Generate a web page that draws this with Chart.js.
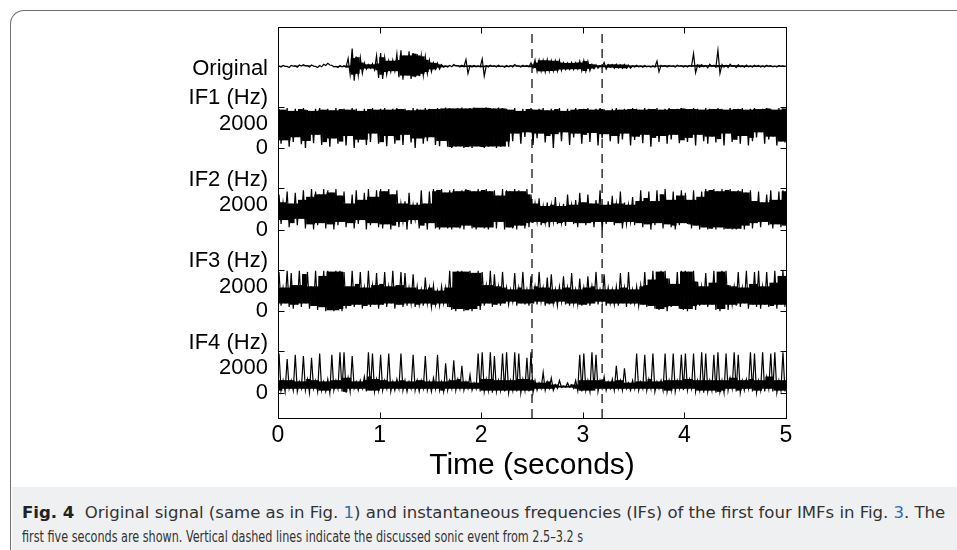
<!DOCTYPE html>
<html>
<head>
<meta charset="utf-8">
<script src="https://cdn.jsdelivr.net/npm/chart.js@4.4.1/dist/chart.umd.min.js"></script>
<style>
  body { margin: 0; width: 957px; height: 550px; overflow: hidden; background: #fff; position: relative; }
  #frame { position: absolute; left: 10px; top: 10px; width: 1000px; height: 600px;
           border-top: 1.5px solid #707070; border-left: 1.5px solid #707070; border-top-left-radius: 14px; }
  #caption { position: absolute; left: 11.5px; top: 487px; width: 946px; height: 63px; background: #eef0f2;
             font-family: "DejaVu Sans Condensed", "DejaVu Sans", sans-serif; font-size: 16px; color: #333; }
  #caption div { position: absolute; left: 10.5px; white-space: nowrap; transform-origin: 0 0; }
  #caption .l1 { top: 16px; }
  #caption .l2 { top: 40px; }
  #caption b { color: #222; }
  #caption .ref { color: #2f6db5; }
  canvas { position: absolute; left: 0; top: 0; }
</style>
</head>
<body>
<div id="frame"></div>
<canvas id="chart" width="957" height="550"></canvas>
<div id="caption">
  <div class="l1"><b>Fig. 4</b>&nbsp; Original signal (same as in Fig. <span class="ref">1</span>) and instantaneous frequencies (IFs) of the first four IMFs in Fig. <span class="ref">3</span>. The</div>
  <div class="l2">first five seconds are shown. Vertical dashed lines indicate the discussed sonic event from 2.5–3.2 s</div>
</div>
<script>
// time axis
const xTicks = [0, 1, 2, 3, 4, 5];
const eventTimes = [2.5, 3.19];
const colWidth = 0.04;   // seconds per min/max column

// left labels, top to bottom
const yLabels = ["Original", "IF1 (Hz)", "2000", "0", "IF2 (Hz)", "2000", "0",
                 "IF3 (Hz)", "2000", "0", "IF4 (Hz)", "2000", "0"];

// original signal, relative amplitude (upper / lower per column)
const origHi = [0.02,0.05,0.0,0.06,0.03,0.08,0.1,0.04,0.08,0.0,0.05,0.12,0.17,0.06,0.0,0.05,0.03,0.45,1.0,0.55,0.5,0.2,0.1,0.15,0.6,
  0.75,0.5,0.3,0.35,0.7,0.9,0.6,0.85,0.75,0.7,0.6,0.55,0.35,0.2,0.18,0.1,0.03,0.05,0.1,0.04,0.06,0.38,0.04,0.05,0.03,
  0.42,0.04,0.07,0.03,0.06,0.02,0.05,0.04,0.1,0.03,0.06,0.04,0.2,0.36,0.34,0.33,0.37,0.32,0.3,0.33,0.2,0.18,0.22,0.2,0.3,
  0.32,0.28,0.12,0.1,0.05,0.22,0.1,0.1,0.12,0.09,0.11,0.08,0.04,0.06,0.03,0.05,0.02,0.04,0.3,0.06,0.04,0.06,0.03,0.07,0.04,
  0.04,0.06,0.72,0.08,0.1,0.05,0.12,0.06,0.9,0.1,0.06,0.12,0.05,0.1,0.04,0.08,0.03,0.06,0.05,0.03,0.06,0.04,0.02,0.05,0.03];
const origLo = [-0.03,0.0,-0.06,0.02,-0.04,0.02,0.03,-0.03,0.02,-0.06,-0.02,0.05,0.08,-0.02,-0.06,-0.02,-0.05,-0.45,-0.8,-0.5,-0.4,-0.15,-0.1,-0.2,-0.65,
  -0.7,-0.45,-0.3,-0.25,-0.6,-0.75,-0.5,-0.7,-0.6,-0.55,-0.5,-0.4,-0.3,-0.15,-0.15,-0.05,-0.03,-0.02,0.03,-0.03,-0.02,-0.4,-0.03,-0.02,-0.03,
  -0.55,-0.03,0.0,-0.04,-0.01,-0.05,-0.02,-0.03,0.02,-0.04,-0.01,-0.03,-0.08,-0.28,-0.26,-0.3,-0.27,-0.24,-0.26,-0.22,-0.16,-0.15,-0.17,-0.14,-0.25,
  -0.27,-0.24,-0.12,-0.1,-0.03,-0.15,-0.05,-0.1,-0.08,-0.11,-0.09,-0.1,-0.03,-0.02,-0.05,-0.02,-0.04,-0.03,-0.3,0.0,-0.03,0.0,-0.04,0.01,-0.03,
  -0.03,0.0,-0.35,-0.05,-0.02,-0.08,0.0,-0.05,-0.4,-0.03,-0.06,0.0,-0.06,-0.02,-0.05,-0.02,-0.04,-0.01,-0.03,-0.04,0.0,-0.03,-0.04,0.0,-0.02];

// instantaneous frequencies in Hz (max / min per column)
const if1Hi = [3200,3100,3250,3000,3200,3150,3250,3100,3000,3200,3250,3100,3200,3050,3250,3150,3200,3100,3250,3200,3000,3200,3150,3250,3100,
  3200,3250,3100,3200,3250,3150,3200,3050,3250,3200,3100,3250,3200,3150,3250,3200,3300,3250,3200,3250,3300,3200,3250,3300,3250,
  3250,3300,3250,3200,3300,3250,3200,3100,3250,3000,3200,3150,3250,3100,3200,3250,3050,3200,3150,3250,3000,3200,3100,3250,3150,
  3200,3250,3100,3200,3250,3150,3050,3200,3250,3100,3200,3150,3250,3200,3100,3250,3200,3150,3250,3100,3200,3250,3150,3200,3250,
  3200,3150,3250,3200,3100,3250,3200,3150,3250,3200,3100,3250,3150,3200,3250,3100,3200,3250,3150,3200,3250,3200,3100,3250,3200];
const if1Lo = [350,650,100,500,900,300,0,600,400,1100,250,500,100,800,350,550,200,1000,0,450,700,250,500,1200,350,
  500,150,1000,350,650,250,1100,450,0,800,350,550,900,250,150,600,100,0,100,150,0,100,0,150,100,
  0,100,150,0,100,150,100,550,1200,350,900,1300,250,800,1200,450,1000,0,1150,550,1300,250,850,1200,350,
  1100,500,1250,200,800,1150,550,1000,350,700,1200,200,650,950,400,1100,100,850,500,1000,350,700,1100,400,650,
  500,850,200,1100,550,350,950,450,750,200,1200,500,700,350,1000,200,550,850,1300,350,700,950,200,550,450];

const if2Hi = [2850,2200,3100,2100,3000,2400,3200,2650,3300,3100,2850,3300,3200,3000,3300,2750,3100,2100,2850,3200,2400,3000,3300,2650,3200,
  3300,3100,3300,2850,3200,2100,2300,3000,2000,2200,3200,2100,3100,3300,3200,3300,3000,3200,3300,3100,3200,3300,3200,3100,3300,
  3200,3300,3100,3200,2750,3300,3200,3100,3300,3200,3100,3300,2850,2100,2550,1900,2200,2000,2650,1900,2100,2850,2000,2400,3000,
  2200,2850,2100,2400,3200,2000,2300,2750,2100,3100,2200,2000,2650,2300,3200,2550,3100,2300,3200,2850,3300,2400,3100,2750,3200,
  3000,2400,3200,2650,3100,3300,3200,3300,3100,3300,3200,3300,3100,3200,3300,3000,3200,2300,3100,2200,2850,3200,2400,3100,3200];
const if2Lo = [450,800,200,550,350,900,100,450,0,350,550,100,450,0,350,650,200,550,100,450,800,0,350,550,200,
  100,450,0,350,200,650,0,450,800,100,350,0,550,100,0,200,100,0,200,100,0,350,100,0,200,
  100,0,200,100,650,0,200,100,0,350,100,200,550,650,350,550,200,650,450,550,300,650,450,200,550,
  350,550,200,650,0,450,650,350,550,100,450,650,350,550,200,450,0,350,550,100,450,200,0,350,550,
  450,100,350,0,200,0,100,0,200,0,100,0,0,100,0,350,100,550,200,650,350,100,450,200,350];

const if3Hi = [3200,1900,3300,3100,2100,3300,3000,3200,2000,3300,2850,3300,3300,3200,3300,3300,3200,2000,3300,2200,3200,1900,3300,2100,3100,
  2200,3200,2000,3300,2100,3200,3100,1900,3000,2000,1750,2750,1900,2100,1650,2000,1900,3300,3200,3300,3300,3200,3300,3100,3300,
  3200,2100,3300,3000,2000,3200,1900,1750,3100,1900,3200,1750,2850,2000,3200,1900,2750,3000,1750,2000,2850,1900,3100,1750,2650,
  1900,2850,2000,3200,1750,3000,1900,1750,2000,3100,1900,3200,1750,2000,2100,3200,2550,3300,3200,3300,3300,2650,2200,3200,3300,
  3300,3200,3300,2400,2000,3100,2300,3300,3200,3300,3300,2100,2000,3200,1900,3300,2200,3200,3300,2000,3200,2300,3300,2850,3300];
const if3Lo = [450,650,350,200,550,350,650,200,450,100,350,0,100,0,100,0,200,450,350,550,200,450,350,550,200,
  550,350,650,200,550,350,450,650,350,550,450,650,350,550,450,650,350,100,0,200,0,100,0,200,100,
  450,650,350,550,450,650,550,800,450,650,550,450,650,550,800,450,550,650,450,800,550,450,650,550,450,
  550,450,650,550,800,450,650,550,450,650,350,550,650,450,550,350,450,200,100,200,0,350,450,200,100,
  0,200,100,450,550,350,550,100,0,200,100,550,450,350,650,200,550,350,200,550,350,450,200,550,350];

const if4Hi = [3200,1000,2750,1000,3100,900,3000,1100,2850,1000,3200,900,1100,3100,1000,3300,3300,1200,3000,900,1000,1300,3300,3200,1100,
  3100,1000,3200,900,1100,3200,1000,900,3100,1000,1000,3000,900,1200,3100,900,2400,1000,2650,1100,2200,900,1450,800,3200,
  3300,1100,3300,3000,1000,3200,3300,1000,3300,3200,1100,2850,3300,1000,800,1650,900,1200,650,1000,550,800,650,1000,3100,
  3200,1000,3300,3100,1000,1300,900,1100,2200,1000,2000,800,1000,3200,900,3100,1100,3200,900,1000,3200,1000,3200,1000,3100,
  3200,1100,3200,1000,3300,3200,1000,3100,3300,1000,3200,1200,3300,3100,1000,1100,3300,3200,1000,3300,1300,3200,3300,1000,3300];
const if4Lo = [200,100,350,200,100,350,200,0,350,100,200,100,0,200,350,100,0,100,350,200,350,100,200,100,200,
  200,350,100,200,350,200,100,350,200,100,350,200,100,350,200,100,200,350,200,350,200,350,200,350,100,
  100,200,0,100,200,100,0,200,100,0,200,100,0,200,350,200,350,200,350,450,450,450,350,200,100,
  200,100,200,100,350,200,350,200,350,200,350,200,350,200,350,200,350,100,350,200,100,200,100,350,200,
  200,350,100,200,0,100,200,0,100,0,200,350,100,0,200,350,100,0,200,100,350,100,0,200,100];

// stacking: each trace gets its own baseline on one shared y axis
const GAP = 6650;            // Hz between stacked baselines
const ORIG_SCALE = 1450;     // relative amplitude -> axis units
const baselines = [4 * GAP, 3 * GAP, 2 * GAP, GAP, 0];
const yMin = -2057, yMax = 29812;

const yTickVals = [26370];
for (let k = 1; k <= 4; k++) {
  const b = baselines[k];
  yTickVals.push(b + 4080, b + 2000, b);
}
const yTickMarks = [];
for (let k = 1; k <= 4; k++) yTickMarks.push(baselines[k], baselines[k] + 3380);

// max/min alternating as a thin line: gives the spikes and ragged edges
function zigzag(hi, lo, base, scale) {
  const pts = [];
  hi.forEach((h, i) => {
    pts.push({ x: (i + 0.25) * colWidth, y: base + h * scale });
    pts.push({ x: (i + 0.75) * colWidth, y: base + lo[i] * scale });
  });
  return pts;
}

// solid core: the range every neighbouring column covers
function core(hi, lo, base, scale) {
  const out = [];
  hi.forEach((h, i) => {
    const a = Math.max(lo[Math.max(i - 1, 0)], lo[i], lo[Math.min(i + 1, lo.length - 1)]);
    const b = Math.min(hi[Math.max(i - 1, 0)], h, hi[Math.min(i + 1, hi.length - 1)]);
    if (b > a) out.push({ x: (i + 0.5) * colWidth, y: [base + a * scale, base + b * scale] });
  });
  return out;
}

const traces = [
  [origHi, origLo, ORIG_SCALE, 1.2],
  [if1Hi, if1Lo, 1, 1.3],
  [if2Hi, if2Lo, 1, 1.2],
  [if3Hi, if3Lo, 1, 1.2],
  [if4Hi, if4Lo, 1, 1.2]
];

const datasets = [];
traces.forEach(([hi, lo, scale, w], k) => {
  datasets.push({
    type: "bar",
    data: core(hi, lo, baselines[k], scale),
    backgroundColor: "#000",
    borderWidth: 0,
    barPercentage: 1,
    categoryPercentage: 1,
    grouped: false,
    inflateAmount: 0.3
  });
  datasets.push({
    type: "line",
    data: zigzag(hi, lo, baselines[k], scale),
    borderColor: "#000",
    borderWidth: w,
    pointRadius: 0,
    tension: 0
  });
});

eventTimes.forEach(t => {
  datasets.push({
    type: "line",
    data: [{ x: t, y: yMin }, { x: t, y: yMax }],
    borderColor: "#000",
    borderWidth: 1.2,
    borderDash: [9, 6],
    pointRadius: 0
  });
});

// box around the plot plus inward tick marks (MATLAB style)
const boxTicks = {
  id: "boxTicks",
  afterDatasetsDraw(chart) {
    const { ctx, chartArea: a, scales: { x, y } } = chart;
    const L = Math.round(a.left) + 0.5, R = Math.round(a.right) + 0.5;
    const T = Math.round(a.top) + 0.5, B = Math.round(a.bottom) + 0.5;
    ctx.save();
    ctx.strokeStyle = "#000";
    ctx.lineWidth = 1;
    ctx.strokeRect(L, T, R - L, B - T);
    ctx.beginPath();
    xTicks.forEach(v => {
      const px = Math.round(x.getPixelForValue(v)) + 0.5;
      ctx.moveTo(px, B); ctx.lineTo(px, B - 6);
      ctx.moveTo(px, T); ctx.lineTo(px, T + 6);
    });
    yTickMarks.forEach(v => {
      const py = Math.round(y.getPixelForValue(v)) + 0.5;
      ctx.moveTo(L, py); ctx.lineTo(L + 6, py);
      ctx.moveTo(R, py); ctx.lineTo(R - 6, py);
    });
    ctx.stroke();
    ctx.restore();
  }
};

const labelFont = { family: "'Liberation Sans', Arial, sans-serif", size: 22 };

new Chart(document.getElementById("chart"), {
  type: "line",
  data: { datasets: datasets },
  options: {
    responsive: false,
    animation: false,
    events: [],
    layout: { padding: { left: 0, top: 27, right: 171, bottom: 0 } },
    plugins: { legend: { display: false }, tooltip: { enabled: false } },
    scales: {
      x: {
        type: "linear",
        min: 0,
        max: 5,
        offset: false,
        afterFit: s => { s.height = 132; },
        afterBuildTicks: s => { s.ticks = xTicks.map(v => ({ value: v })); },
        grid: { display: false, drawTicks: false },
        border: { display: false },
        ticks: { font: { family: "'Liberation Sans', Arial, sans-serif", size: 23 }, color: "#000", padding: 4, maxRotation: 0 },
        title: {
          display: true,
          text: "Time (seconds)",
          color: "#000",
          font: { family: "'Liberation Sans', Arial, sans-serif", size: 30 },
          padding: { top: 0, bottom: 66 }
        }
      },
      y: {
        type: "linear",
        min: yMin,
        max: yMax,
        afterFit: s => { s.width = 278; },
        afterBuildTicks: s => { s.ticks = yTickVals.map(v => ({ value: v })); },
        grid: { display: false, drawTicks: false },
        border: { display: false },
        ticks: {
          autoSkip: false,
          font: labelFont,
          color: "#000",
          padding: 10,
          callback: (v, i) => yLabels[i]
        }
      }
    }
  },
  plugins: [boxTicks]
});

// caption lines fitted to the widths of the typeset original
const l1 = document.querySelector("#caption .l1");
const l2 = document.querySelector("#caption .l2");
l1.style.transform = "scaleX(" + (923 / l1.scrollWidth) + ")";
l2.style.transform = "scaleX(" + (561 / l2.scrollWidth) + ")";
</script>
</body>
</html>
